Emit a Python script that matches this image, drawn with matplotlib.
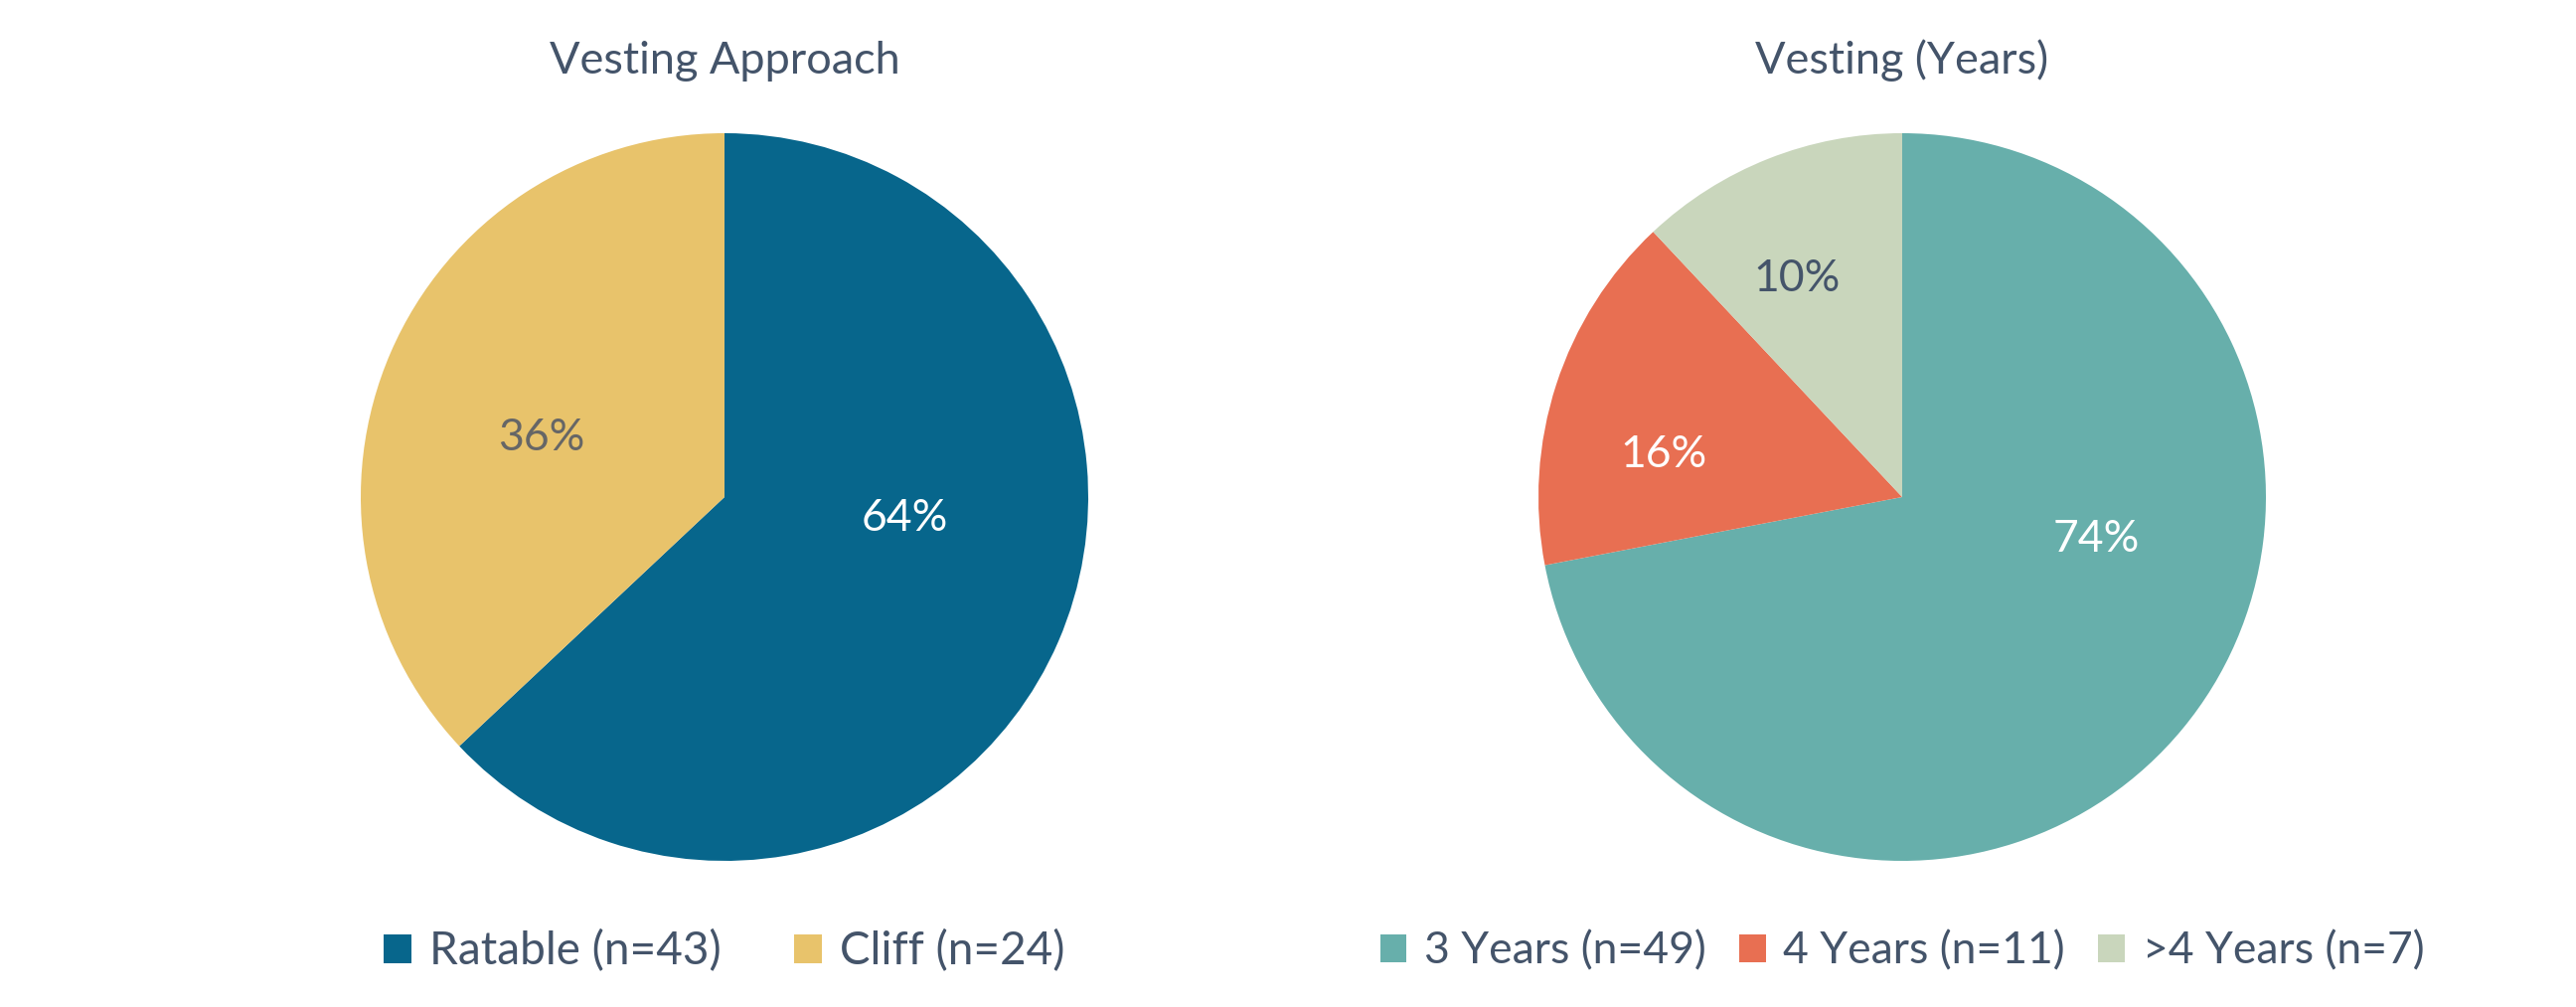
import matplotlib
matplotlib.use("Agg")
import matplotlib.pyplot as plt
from matplotlib.patches import Patch
import numpy as np

# ---- data ----
left_title = "Vesting Approach"
left_categories = ["Ratable (n=43)", "Cliff (n=24)"]
left_shares = [63, 37]          # slice sizes as drawn in the picture
left_labels = ["64%", "36%"]

right_title = "Vesting (Years)"
right_categories = ["3 Years (n=49)", "4 Years (n=11)", ">4 Years (n=7)"]
right_shares = [72, 16, 12]     # slice sizes as drawn in the picture
right_labels = ["74%", "16%", "10%"]

# ---- style ----
left_colors = ["#07668C", "#E8C36B"]
right_colors = ["#67AFAB", "#E86F52", "#C9D6BC"]
left_label_colors = ["white", "#666666"]
right_label_colors = ["white", "white", "#44546A"]
left_label_style = [(16.6, 0.50), (5.5, 0.53)]      # (angle shift deg, radial distance)
right_label_style = [(27.2, 0.545), (8.0, 0.665), (4.1, 0.665)]
text_color = "#44546A"
FONT = "Lato"

W, H = 2592, 1013
fig = plt.figure(figsize=(W / 100, H / 100), dpi=100)
R = 366  # pie radius px


def draw(cx, cy, shares, colors, labels, label_colors, label_style, title, cats,
         colspace, legsize):
    ax = fig.add_axes([(cx - R) / W, (cy - R) / H, 2 * R / W, 2 * R / H])
    wedges, _ = ax.pie(shares, colors=colors, startangle=90, counterclock=False,
                       radius=1.0, wedgeprops=dict(linewidth=0))
    for w, lab, lc, (shift, dist) in zip(wedges, labels, label_colors, label_style):
        mid = np.deg2rad((w.theta1 + w.theta2) / 2 + shift)
        ax.text(dist * np.cos(mid), dist * np.sin(mid), lab, ha="center", va="center",
                color=lc, fontsize=32, family=FONT)
    ax.set_xlim(-1, 1)
    ax.set_ylim(-1, 1)
    ax.set_aspect("equal")
    ax.axis("off")
    fig.text(cx / W, 1 - 61 / H, title, ha="center", va="center",
             fontsize=32.5, color=text_color, family=FONT)
    handles = [Patch(facecolor=c, edgecolor="none") for c in colors]
    fig.legend(handles, cats, loc="center", bbox_to_anchor=(cx / W, 1 - 957 / H),
               ncol=len(cats), frameon=False, labelcolor=text_color,
               handlelength=0.6, handleheight=0.6, handletextpad=0.4,
               columnspacing=colspace, prop=dict(family=FONT, size=legsize))


draw(729, H - 500, left_shares, left_colors, left_labels, left_label_colors,
     left_label_style, left_title, left_categories, 1.6, 33)
draw(1914, H - 500, right_shares, right_colors, right_labels, right_label_colors,
     right_label_style, right_title, right_categories, 0.75, 32)

fig.savefig("out.png", dpi=100, facecolor="white")
